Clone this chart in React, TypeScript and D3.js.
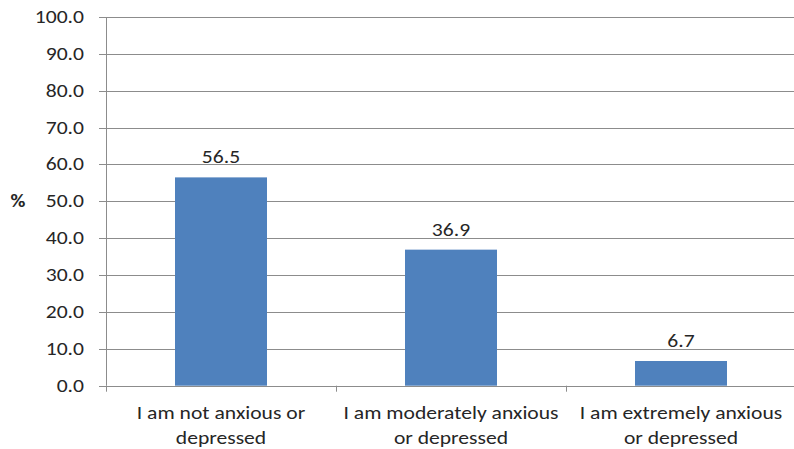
import React, { useEffect, useRef } from 'react';
import * as d3 from 'd3';

const categories: string[][] = [
  ['I am not anxious or', 'depressed'],
  ['I am moderately anxious', 'or depressed'],
  ['I am extremely anxious', 'or depressed'],
];
const values = [56.5, 36.9, 6.7];
const yTicks = [0, 10, 20, 30, 40, 50, 60, 70, 80, 90, 100];

const App: React.FC = () => {
  const svgRef = useRef<SVGSVGElement>(null);

  useEffect(() => {
    const svg = d3.select(svgRef.current);
    svg.selectAll('*').remove();

    const W = 794, H = 449;
    const left = 106, right = 796, top = 17, bottom = 385.7;
    const font = "Carlito, Calibri, 'Open Sans', 'Liberation Sans', sans-serif";
    const textCol = '#262626';
    const sx = 1.2; // reference glyphs are wider than Carlito

    svg.attr('width', W).attr('height', H).style('background', '#fff');

    const idx = d3.range(values.length);
    const x = d3.scaleBand<number>().domain(idx).range([left, right]).paddingInner(0).paddingOuter(0);
    const y = d3.scaleLinear().domain([0, 100]).range([bottom, top]);

    // helper: text with horizontal stretch
    const label = (
      parent: d3.Selection<any, any, any, any>,
      tx: number, ty: number, txt: string, anchor: string, size: number, weight = 'normal'
    ) => parent.append('g')
      .attr('transform', `translate(${tx},${ty}) scale(${sx},1)`)
      .append('text')
      .attr('text-anchor', anchor)
      .style('font-family', font)
      .style('font-size', `${size}px`)
      .style('font-weight', weight)
      .style('fill', textCol)
      .text(txt);

    // gridlines + tick marks
    svg.append('g')
      .selectAll('line')
      .data(yTicks)
      .enter()
      .append('line')
      .attr('x1', left - 7)
      .attr('x2', right)
      .attr('y1', d => Math.round(y(d)) + 0.5)
      .attr('y2', d => Math.round(y(d)) + 0.5)
      .attr('stroke', '#8c8c8c')
      .attr('stroke-width', 1);

    // y axis line
    svg.append('line')
      .attr('x1', left + 0.5).attr('x2', left + 0.5)
      .attr('y1', y(100)).attr('y2', bottom)
      .attr('stroke', '#8c8c8c');

    // y tick labels
    const yl = svg.append('g');
    yTicks.forEach(t => label(yl, left - 22, y(t) + 6, t.toFixed(1), 'end', 18));

    // y label
    label(svg, 18, y(50) + 6, '%', 'middle', 17, 'bold');

    // category tick marks
    svg.append('g')
      .selectAll('line')
      .data(d3.range(values.length + 1))
      .enter()
      .append('line')
      .attr('x1', d => Math.round(left + d * x.bandwidth()) + 0.5)
      .attr('x2', d => Math.round(left + d * x.bandwidth()) + 0.5)
      .attr('y1', bottom)
      .attr('y2', bottom + 6)
      .attr('stroke', '#8c8c8c');

    // bars
    const barW = x.bandwidth() * 0.4;
    svg.append('g')
      .selectAll('rect')
      .data(values)
      .enter()
      .append('rect')
      .attr('x', (d, i) => (x(i) as number) + (x.bandwidth() - barW) / 2)
      .attr('y', d => y(d))
      .attr('width', barW)
      .attr('height', d => bottom - y(d))
      .attr('fill', '#4f81bd');

    // value labels
    const vl = svg.append('g');
    values.forEach((v, i) =>
      label(vl, (x(i) as number) + x.bandwidth() / 2, y(v) - 14, v.toFixed(1), 'middle', 18));

    // category labels
    const cl = svg.append('g');
    categories.forEach((lines, i) => {
      const cx = (x(i) as number) + x.bandwidth() / 2;
      lines.forEach((line, j) => label(cl, cx, 419 + j * 25, line, 'middle', 18));
    });
  }, []);

  return <svg ref={svgRef} style={{ position: 'absolute', left: 0, top: 0 }}></svg>;
};

export default App;
